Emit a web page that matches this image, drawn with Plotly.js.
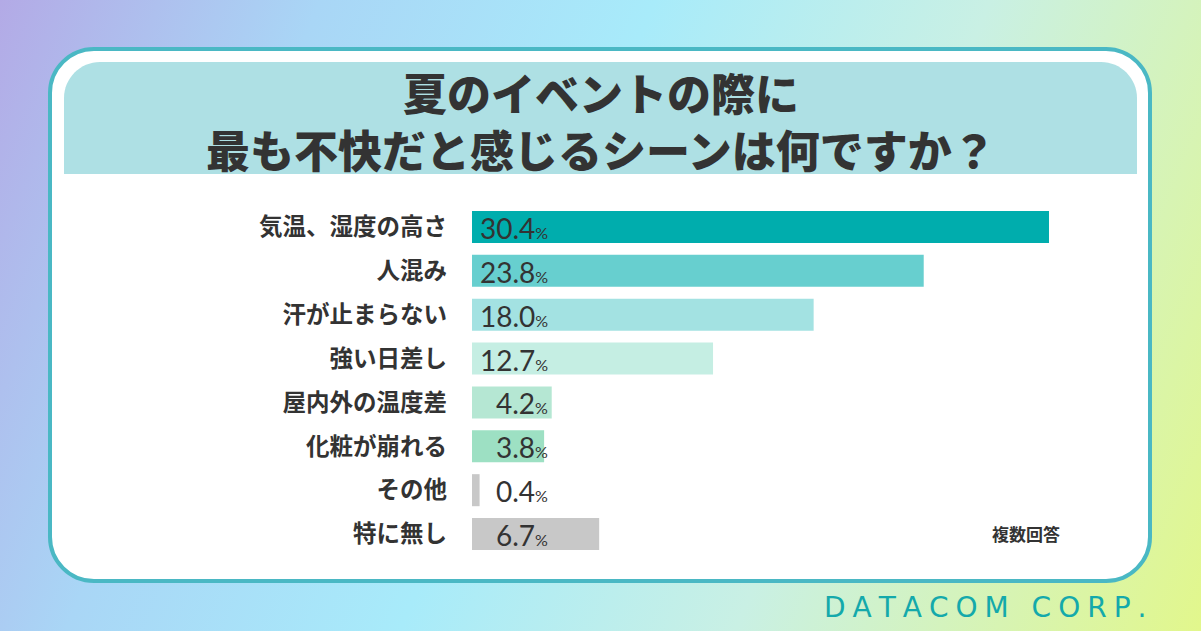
<!DOCTYPE html>
<html>
<head>
<meta charset="utf-8">
<script src="https://cdn.plot.ly/plotly-3.0.1.min.js"></script>
<style>
  html, body { margin: 0; padding: 0; }
  body {
    width: 1201px; height: 631px; overflow: hidden;
    background: linear-gradient(112deg, #b3aae6 0%, #a9d6f6 22%, #a8ebfa 45%, #c9f0e4 68%, #e2f78c 100%);
  }
  #chart { width: 1201px; height: 631px; }
</style>
</head>
<body>
<div id="chart"></div>
<script>
// survey answers (multiple answers allowed)
var categories = ['気温、湿度の高さ', '人混み', '汗が止まらない', '強い日差し', '屋内外の温度差', '化粧が崩れる', 'その他', '特に無し'];
var values = [30.4, 23.8, 18.0, 12.7, 4.2, 3.8, 0.4, 6.7];
var barColors = ['#00adad', '#67cfcf', '#a3e2e2', '#c5eee3', '#b5e7d3', '#9de0c3', '#c8c8c8', '#c8c8c8'];

var W = 1201, H = 631;
function px(x) { return x / W; }
function py(y) { return 1 - y / H; }

// rounded rectangle in paper coords, r = [tl, tr, br, bl] radii in px
function roundRect(x0, y0, x1, y1, r) {
  var k = 0.45;
  var p = 'M ' + px(x0 + r[0]) + ',' + py(y0);
  p += ' L ' + px(x1 - r[1]) + ',' + py(y0);
  p += ' C ' + px(x1 - r[1] * k) + ',' + py(y0) + ' ' + px(x1) + ',' + py(y0 + r[1] * k) + ' ' + px(x1) + ',' + py(y0 + r[1]);
  p += ' L ' + px(x1) + ',' + py(y1 - r[2]);
  p += ' C ' + px(x1) + ',' + py(y1 - r[2] * k) + ' ' + px(x1 - r[2] * k) + ',' + py(y1) + ' ' + px(x1 - r[2]) + ',' + py(y1);
  p += ' L ' + px(x0 + r[3]) + ',' + py(y1);
  p += ' C ' + px(x0 + r[3] * k) + ',' + py(y1) + ' ' + px(x0) + ',' + py(y1 - r[3] * k) + ' ' + px(x0) + ',' + py(y1 - r[3]);
  p += ' L ' + px(x0) + ',' + py(y0 + r[0]);
  p += ' C ' + px(x0) + ',' + py(y0 + r[0] * k) + ' ' + px(x0 + r[0] * k) + ',' + py(y0) + ' ' + px(x0 + r[0]) + ',' + py(y0);
  return p + ' Z';
}

var LABEL_X = 4.1;  // right edge of the value labels, in axis units

var bars = {
  type: 'bar',
  orientation: 'h',
  y: categories,
  x: values,
  width: 0.73,
  marker: { color: barColors, line: { width: 0 } },
  hoverinfo: 'x+y'
};

var annotations = values.map(function (v, i) {
  return {
    x: LABEL_X, y: categories[i], xref: 'x', yref: 'y',
    text: v.toFixed(1) + '<span style="font-size:16px">%</span>',
    showarrow: false, xanchor: 'right', yanchor: 'middle',
    font: { family: 'Lato, sans-serif', size: 28, color: '#333333' },
    yshift: -1
  };
});

var cjk = '"Noto Sans CJK JP", sans-serif';
var sp = '\u2005';
annotations.push(
  { xref: 'paper', yref: 'paper', x: 0.5, y: py(120), text: '夏のイベントの際に<br>最も不快だと感じるシーンは何ですか？', showarrow: false,
    xanchor: 'center', yanchor: 'middle', font: { family: cjk, size: 44, color: '#333333', weight: 900 } },
  { xref: 'paper', yref: 'paper', x: px(1026), y: py(533), text: '<b>複数回答</b>', showarrow: false,
    xanchor: 'center', yanchor: 'middle', font: { family: cjk, size: 17, color: '#333333' } },
  { xref: 'paper', yref: 'paper', x: px(985), y: py(607), text: 'DATACOM CORP.'.split('').join(sp), showarrow: false,
    xanchor: 'center', yanchor: 'middle', font: { family: '"DejaVu Sans", sans-serif', size: 28, color: '#14a9ab' } }
);

var shapes = [
  { type: 'path', xref: 'paper', yref: 'paper', layer: 'below',
    path: roundRect(50, 49, 1150, 581, [44, 44, 44, 44]),
    fillcolor: '#ffffff', line: { color: '#4ab8c4', width: 4 } },
  { type: 'path', xref: 'paper', yref: 'paper', layer: 'below',
    path: roundRect(64, 62, 1137, 174, [36, 36, 0, 0]),
    fillcolor: '#aee0e4', line: { width: 0 } }
];

var xMax = 32;
var layout = {
  width: W, height: H,
  margin: { l: 0, r: 0, t: 0, b: 0 },
  paper_bgcolor: 'rgba(0,0,0,0)',
  plot_bgcolor: 'rgba(0,0,0,0)',
  showlegend: false,
  xaxis: {
    domain: [px(472), px(472 + xMax * 18.98)],
    range: [0, xMax],
    showgrid: false, zeroline: false, showticklabels: false, showline: false
  },
  yaxis: {
    domain: [py(556), py(205)],
    range: [7.5, -0.5],
    type: 'category',
    showgrid: false, zeroline: false, showline: false,
    ticks: '', ticklabelstandoff: 24,
    tickfont: { family: cjk, size: 23.5, color: '#333333', weight: 'bold' }
  },
  shapes: shapes,
  annotations: annotations
};

Plotly.newPlot('chart', [bars], layout, { displayModeBar: false, staticPlot: true });
</script>
</body>
</html>
